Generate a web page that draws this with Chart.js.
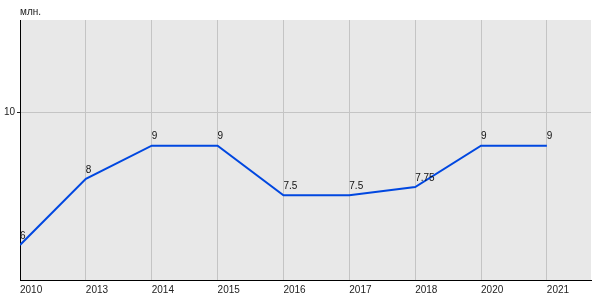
<!DOCTYPE html>
<html>
<head>
<meta charset="utf-8">
<script src="https://cdn.jsdelivr.net/npm/chart.js@4"></script>
<style>
  body{margin:0;background:#fff;}
  #wrap{width:600px;height:300px;}
</style>
</head>
<body>
<div id="wrap"><canvas id="lineChart"></canvas></div>
<script>
// data
const years = ['2010','2013','2014','2015','2016','2017','2018','2020','2021'];
const values = [6, 8, 9, 9, 7.5, 7.5, 7.75, 9, 9];
const valueLabels = ['6','8','9','9','7.5','7.5','7.75','9','9'];
const yTicks = [10];
const unitLabel = 'млн.';

// gray plot background + unit text
const plotBgPlugin = {
    id:'plotBg',
    beforeDraw:(chart)=>{
        const {ctx, chartArea} = chart;
        ctx.save();
        ctx.fillStyle = '#e8e8e8';
        ctx.fillRect(chartArea.left, chartArea.top, chartArea.right-chartArea.left, chartArea.bottom-chartArea.top);
        ctx.fillStyle = '#222';
        ctx.font = '10px "Liberation Sans", Arial, sans-serif';
        ctx.textAlign = 'left';
        ctx.textBaseline = 'middle';
        ctx.fillText(unitLabel, chartArea.left, 12);
        ctx.restore();
    }
}

// value labels above each point
const valueLabelPlugin = {
    id:'valueLabels',
    afterDatasetsDraw:(chart)=>{
        const {ctx} = chart;
        const xs = chart.scales.x;
        const ys = chart.scales.y;
        ctx.save();
        ctx.fillStyle = '#111';
        ctx.font = '10px "Liberation Sans", Arial, sans-serif';
        ctx.textAlign = 'left';
        ctx.textBaseline = 'bottom';
        values.forEach((v,i)=>{
            ctx.fillText(valueLabels[i], xs.getPixelForValue(i), ys.getPixelForValue(v)-4);
        })
        ctx.restore();
    }
}

let points = values.map((v,i)=>({x:i, y:v}));

let lineChart = new Chart(document.getElementById('lineChart').getContext('2d'),{
    type:'line',
    data:{
        datasets:[{
            data: points,
            borderColor:'#0047e0',
            borderWidth:2,
            pointRadius:0,
            tension:0,
            fill:false
        }]
    },
    options:{
        responsive:true,
        maintainAspectRatio:false,
        animation:false,
        layout:{padding:{top:20, right:9, left:0, bottom:0}},
        plugins:{
            legend:{display:false},
            tooltip:{enabled:false}
        },
        scales:{
            x:{
                type:'linear',
                min:0,
                max:8.67,
                afterBuildTicks:(scale)=>{ scale.ticks = years.map((y,i)=>({value:i})) },
                afterFit:(scale)=>{ scale.height = 20 },
                grid:{color:'#c4c4c4', drawTicks:false},
                border:{display:true, color:'#000', width:1},
                ticks:{
                    align:'start',
                    padding:4,
                    maxRotation:0,
                    autoSkip:false,
                    color:'#222',
                    font:{family:'"Liberation Sans", Arial, sans-serif', size:10},
                    callback:(val)=> years[val] ?? ''
                }
            },
            y:{
                min:4.94,
                max:12.8,
                afterBuildTicks:(scale)=>{ scale.ticks = yTicks.map(t=>({value:t})) },
                afterFit:(scale)=>{ scale.width = 20 },
                grid:{color:'#c4c4c4', tickLength:3, tickColor:'#222'},
                border:{display:true, color:'#000', width:1},
                ticks:{
                    padding:2,
                    color:'#222',
                    font:{family:'"Liberation Sans", Arial, sans-serif', size:10}
                }
            }
        }
    },
    plugins:[plotBgPlugin, valueLabelPlugin]
})
</script>
</body>
</html>
